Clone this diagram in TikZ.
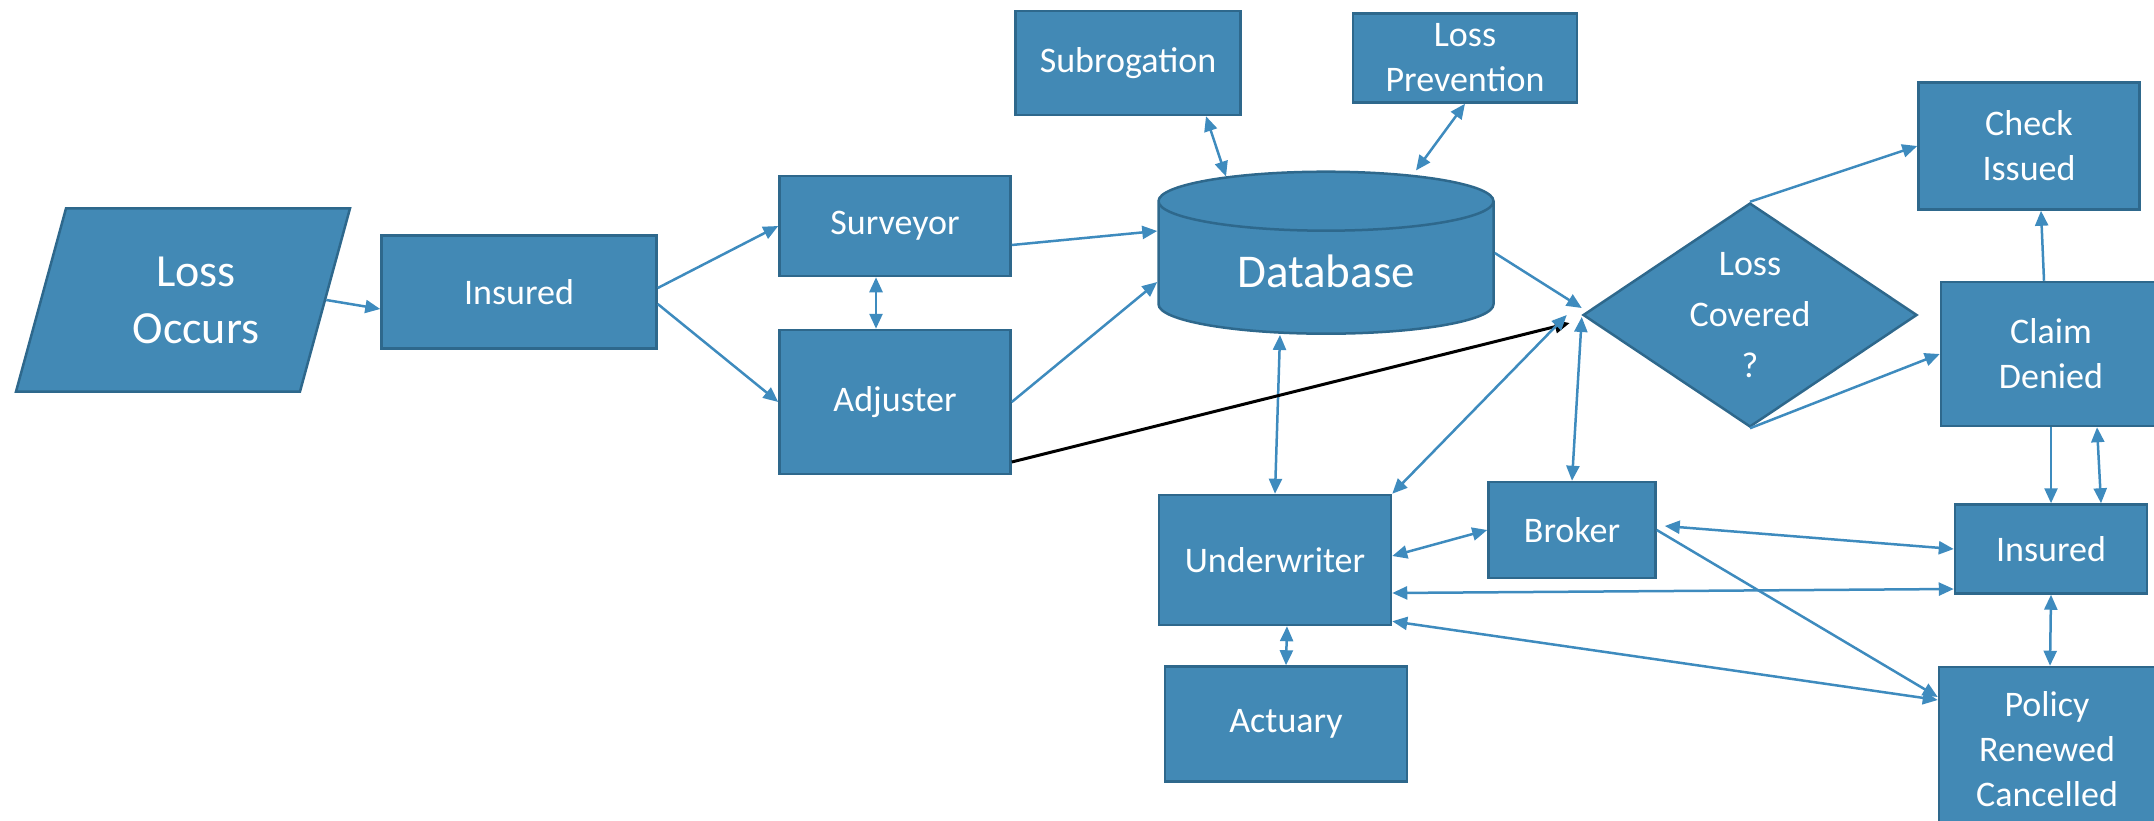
\documentclass[tikz,border=0pt]{standalone}
\usepackage{fontspec}
\setmainfont{Carlito}
\usetikzlibrary{shapes.geometric,arrows.meta}
\definecolor{boxfill}{RGB}{66,137,181}
\definecolor{boxedge}{RGB}{46,104,140}
\definecolor{linkblue}{RGB}{62,139,190}
\tikzstyle{box}=[rectangle,draw=boxedge,fill=boxfill,line width=2.5pt,inner sep=0pt,text=white,align=center,font=\fontsize{36}{45}\selectfont]
\tikzstyle{decision}=[diamond,aspect=1.5,draw=boxedge,fill=boxfill,line width=2.5pt,inner sep=0pt,minimum width=334pt,minimum height=224pt,text=white,align=center,font=\fontsize{36}{51}\selectfont]
\tikzstyle{store}=[cylinder,shape border rotate=90,aspect=0.32,draw=boxedge,fill=boxfill,line width=2.5pt,minimum width=335pt,minimum height=162pt,text=white,font=\fontsize{47}{56}\selectfont]
\tikzstyle{data}=[trapezium,trapezium left angle=70,trapezium right angle=110,trapezium stretches=true,draw=boxedge,fill=boxfill,line width=2.5pt,minimum width=334pt,minimum height=183pt,text=white,align=center,font=\fontsize{46}{57}\selectfont]
\tikzstyle{line}=[draw=linkblue,line width=2.5pt]
\tikzstyle{blackline}=[draw=black,line width=3pt]

\begin{document}
\begin{tikzpicture}[x=1pt,y=-1pt,>={Triangle[length=15pt,width=13pt]}]
  \useasboundingbox (0,0) rectangle (2154,821);
  \clip (0,0) rectangle (2154,821);
  % shapes
  \node[data] (lossoccurs) at (183,300) {\hspace*{26pt}Loss\\\hspace*{26pt}Occurs};
  \node[box,minimum width=275pt,minimum height=113pt] (insured) at (519,292) {Insured};
  \node[box,minimum width=231pt,minimum height=100pt] (surveyor) at (895,226) {Surveyor};
  \node[box,minimum width=231pt,minimum height=144pt] (adjuster) at (895,402) {Adjuster};
  \node[box,minimum width=225pt,minimum height=104pt] (subrogation) at (1128,63) {\raisebox{-3pt}{Subrogation}};
  \node[box,minimum width=224pt,minimum height=89pt] (lossprevention) at (1465,58) {Loss\\Prevention};
  \node[store] (database) at (1326,271) {Database};
  \node[decision] (covered) at (1750,315) {Loss\\Covered\\?};
  \node[box,minimum width=221pt,minimum height=127pt] (checkissued) at (2029,146) {Check\\Issued};
  \node[box,minimum width=220pt,minimum height=144pt] (claimdenied) at (2051,354) {Claim\\Denied};
  \node[box,minimum width=192pt,minimum height=89pt] (insuredright) at (2051,549) {Insured};
  \node[box,minimum width=216pt,minimum height=164pt] (policy) at (2047,749) {Policy\\Renewed\\Cancelled};
  \node[box,minimum width=167pt,minimum height=96pt] (broker) at (1572,530) {Broker};
  \node[box,minimum width=232pt,minimum height=130pt] (underwriter) at (1275,560) {Underwriter};
  \node[box,minimum width=242pt,minimum height=115pt] (actuary) at (1286,724) {Actuary};
  % claim intake
  \draw[line,->] (lossoccurs.east) -- ([yshift=-17pt]insured.west);
  \draw[line,->] ([yshift=4pt]insured.east) -- (surveyor.west);
  \draw[line,->] ([yshift=-12pt]insured.east) -- (adjuster.west);
  \draw[line,<->] ([xshift=-19pt]surveyor.south) -- ([xshift=-19pt]adjuster.north);
  \draw[line,->] ([yshift=-19pt]surveyor.east) -- ([yshift=40pt]database.west);
  \draw[line,->] (adjuster.east) -- ([yshift=-11pt]database.west);
  % database links
  \draw[line,<->] ([xshift=78pt]subrogation.south) -- ([xshift=-100pt,yshift=-6pt]database.north);
  \draw[line,<->] (lossprevention.south) -- ([xshift=90pt]database.north);
  \draw[line,->] ([yshift=18pt]database.east) -- ([yshift=7pt]covered.west);
  \draw[line,<->] ([xshift=-46pt]database.south) -- (underwriter.north);
  \draw[blackline,->] ([yshift=-60pt]adjuster.east) -- ([xshift=-12pt,yshift=-8pt]covered.west);
  % decision
  \draw[line,<->] (underwriter.north east) -- ([xshift=-15pt]covered.west);
  \draw[line,<->] (broker.north) -- ([yshift=-2pt]covered.west);
  \draw[line,->] (covered.north) -- (checkissued.west);
  \draw[line,->] (covered.south) -- (claimdenied.west);
  \draw[line,->] ([xshift=-7pt]claimdenied.north) -- ([xshift=12pt]checkissued.south);
  \draw[line,->] (claimdenied.south) -- (insuredright.north);
  \draw[line,<->] ([xshift=46pt]claimdenied.south) -- ([xshift=50pt]insuredright.north);
  % underwriting side
  \draw[line,<->] ([yshift=4pt]underwriter.east) -- (broker.west);
  \draw[line,<->] ([xshift=8pt,yshift=4pt]broker.east) -- (insuredright.west);
  \draw[line,<->] ([yshift=-33pt]underwriter.east) -- ([yshift=-40pt]insuredright.west);
  \draw[line,<->] ([yshift=5pt]underwriter.south east) -- ([yshift=49pt]policy.west);
  \draw[line,->] (broker.east) -- ([yshift=52pt]policy.west);
  \draw[line,<->] ([xshift=12pt]underwriter.south) -- (actuary.north);
  \draw[line,<->] (insuredright.south) -- ([xshift=3pt]policy.north);
\end{tikzpicture}
\end{document}
